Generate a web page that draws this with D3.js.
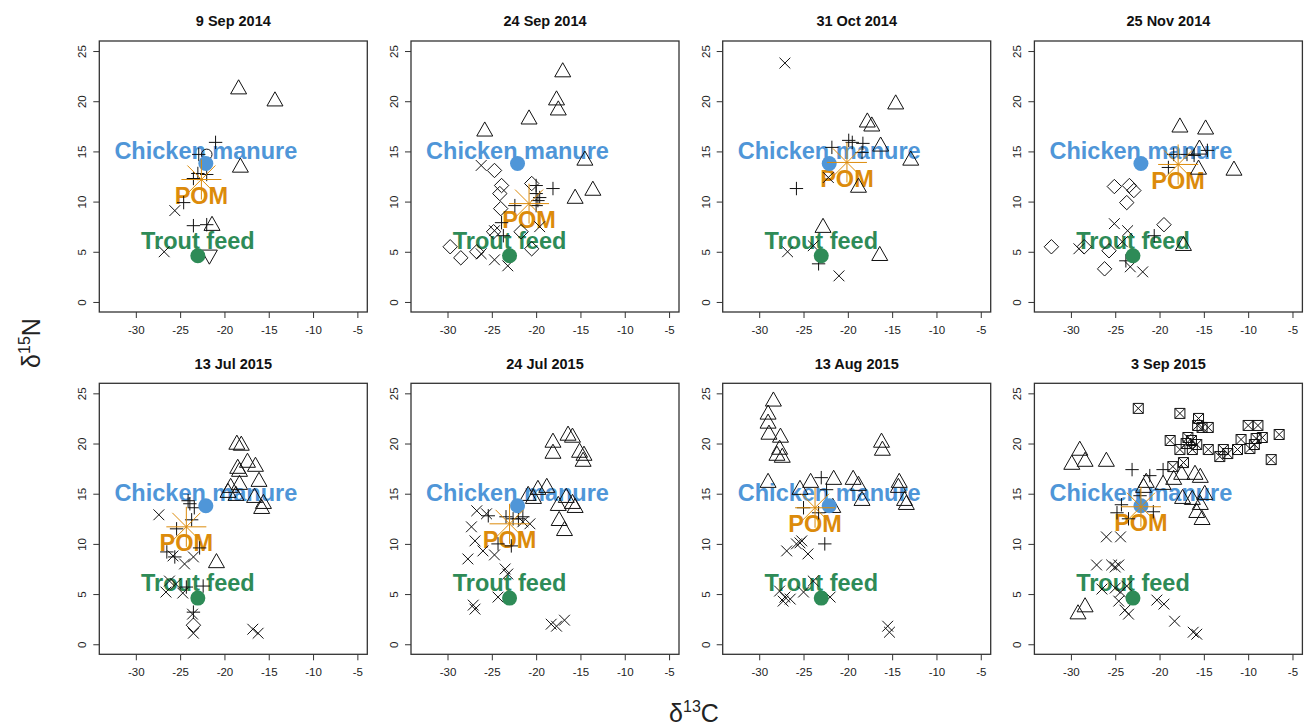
<!DOCTYPE html>
<html>
<head>
<meta charset="utf-8">
<script src="https://cdn.jsdelivr.net/npm/d3@7"></script>
<style>
  body { margin: 0; background: #fff; }
  svg { display: block; font-family: Arial, "Liberation Sans", sans-serif; }
  .tick-label { font-size: 11.5px; fill: #222; }
  .title { font-size: 14.5px; font-weight: bold; fill: #111; }
  .src { font-size: 23.5px; font-weight: bold; }
</style>
</head>
<body>
<div id="chart"></div>
<script>
// panel titles, in reading order
var panelTitles = ["9 Sep 2014", "24 Sep 2014", "31 Oct 2014", "25 Nov 2014",
                   "13 Jul 2015", "24 Jul 2015", "13 Aug 2015", "3 Sep 2015"];
var xTicks = [-30, -25, -20, -15, -10, -5];
var yTicks = [0, 5, 10, 15, 20, 25];

// end members (same for every date)
var chickenManure = [-22.1, 13.8];
var troutFeed = [-23.0, 4.6];

// POM for each date
var pomX = [-22.6, -20.8, -20.1, -17.9, -24.3, -23.0, -23.7, -22.1];
var pomY = [12.2, 9.8, 13.9, 13.7, 11.7, 12.0, 13.6, 13.7];

// consumers: [d13C, d15N, symbol]
var sep09_2014 = [
  [-18.4, 21.2, "tri"], [-14.3, 20.0, "tri"], [-18.2, 13.4, "tri"], [-21.4, 7.6, "tri"],
  [-21.0, 15.9, "plus"], [-22.9, 14.7, "plus"], [-22.0, 14.7, "circ"], [-23.0, 12.8, "plus"],
  [-22.0, 12.7, "plus"], [-23.5, 12.3, "plus"], [-24.6, 9.9, "plus"], [-25.6, 9.1, "x"],
  [-23.5, 7.6, "plus"], [-22.0, 7.7, "plus"], [-26.8, 5.0, "x"], [-21.7, 4.7, "tridown"]
];
var sep24_2014 = [
  [-17.0, 22.9, "tri"], [-17.7, 20.1, "tri"], [-17.5, 19.1, "tri"], [-20.8, 18.2, "tri"],
  [-25.8, 17.0, "tri"], [-14.5, 14.1, "tri"], [-13.6, 11.1, "tri"], [-15.6, 10.3, "tri"],
  [-20.5, 11.8, "dia"], [-26.2, 13.6, "x"], [-24.7, 13.1, "dia"], [-23.9, 11.6, "dia"],
  [-24.1, 10.8, "dia"], [-24.0, 9.3, "dia"], [-24.8, 7.0, "dia"], [-21.7, 7.0, "dia"],
  [-20.5, 5.3, "dia"], [-29.7, 5.5, "dia"], [-28.5, 4.4, "dia"], [-26.7, 5.0, "dia"],
  [-26.2, 4.8, "x"], [-24.7, 4.2, "x"], [-23.2, 3.6, "x"], [-24.7, 7.1, "x"],
  [-23.9, 7.9, "plus"], [-23.7, 6.6, "plus"], [-22.4, 9.6, "plus"], [-20.0, 11.6, "plus"],
  [-20.0, 10.8, "plus"], [-19.8, 10.1, "plus"], [-19.6, 10.4, "plus"], [-18.1, 11.3, "plus"],
  [-20.0, 9.6, "plus"], [-19.6, 7.5, "x"]
];
var oct31_2014 = [
  [-27.1, 23.8, "x"], [-14.6, 19.7, "tri"], [-17.8, 17.9, "tri"], [-17.3, 17.5, "tri"],
  [-16.3, 15.5, "tri"], [-12.9, 14.1, "tri"], [-18.8, 11.4, "tri"], [-22.8, 7.4, "tri"],
  [-16.4, 4.6, "tri"], [-19.9, 16.1, "plus"], [-19.5, 15.9, "plus"], [-18.3, 15.8, "plus"],
  [-18.4, 14.9, "plus"], [-21.8, 15.4, "plus"], [-25.8, 11.3, "plus"], [-23.3, 3.8, "plus"],
  [-22.2, 12.4, "x"], [-26.8, 5.0, "x"], [-23.9, 5.6, "x"], [-21.0, 2.6, "x"]
];
var nov25_2014 = [
  [-17.7, 17.4, "tri"], [-14.8, 17.2, "tri"], [-11.6, 13.1, "tri"], [-15.6, 13.2, "tri"],
  [-15.5, 15.2, "tri"], [-17.3, 5.6, "tri"], [-19.0, 13.4, "plus"], [-18.4, 14.7, "plus"],
  [-16.9, 14.7, "plus"], [-16.1, 14.6, "plus"], [-14.6, 15.1, "plus"], [-20.6, 6.6, "plus"],
  [-25.1, 11.5, "dia"], [-23.4, 11.6, "dia"], [-22.9, 11.1, "dia"], [-23.7, 9.9, "dia"],
  [-19.5, 7.7, "dia"], [-32.2, 5.5, "dia"], [-28.5, 5.5, "dia"], [-25.7, 5.1, "dia"],
  [-26.2, 3.3, "dia"], [-29.1, 5.3, "x"], [-25.1, 7.8, "x"], [-23.6, 7.1, "x"],
  [-24.2, 6.0, "x"], [-23.3, 3.5, "x"], [-21.9, 3.0, "x"], [-23.8, 4.1, "plus"]
];
var jul13_2015 = [
  [-18.6, 19.9, "tri"], [-18.1, 19.8, "tri"], [-17.4, 18.1, "tri"], [-16.5, 17.7, "tri"],
  [-18.5, 17.5, "tri"], [-18.3, 17.2, "tri"], [-16.1, 16.2, "tri"], [-19.3, 15.6, "tri"],
  [-18.3, 15.9, "tri"], [-19.6, 15.1, "tri"], [-18.7, 14.8, "tri"], [-16.6, 14.6, "tri"],
  [-15.6, 14.0, "tri"], [-15.8, 13.5, "tri"], [-20.9, 8.1, "tri"],
  [-24.1, 14.3, "plus"], [-23.9, 14.0, "plus"], [-23.4, 13.6, "plus"], [-23.7, 12.4, "plus"],
  [-25.4, 11.5, "plus"], [-26.5, 9.2, "plus"], [-25.6, 8.7, "plus"], [-24.3, 5.7, "plus"],
  [-22.4, 5.8, "plus"], [-23.5, 3.2, "plus"], [-22.8, 9.6, "plus"],
  [-27.4, 12.9, "x"], [-25.8, 8.8, "x"], [-24.5, 8.0, "x"], [-23.5, 8.7, "x"],
  [-26.2, 6.3, "x"], [-25.5, 6.0, "x"], [-26.6, 5.2, "x"], [-24.7, 5.1, "x"],
  [-23.6, 3.0, "x"], [-23.5, 1.1, "x"], [-16.8, 1.5, "x"], [-16.2, 1.1, "x"],
  [-23.5, 1.9, "dia"]
];
var jul24_2015 = [
  [-18.1, 20.1, "tri"], [-18.1, 19.0, "tri"], [-16.4, 20.8, "tri"], [-15.9, 20.6, "tri"],
  [-15.1, 19.1, "tri"], [-14.6, 18.8, "tri"], [-14.7, 18.2, "tri"], [-19.8, 15.4, "tri"],
  [-18.8, 15.6, "tri"], [-20.9, 14.8, "tri"], [-20.3, 14.5, "tri"], [-17.5, 13.8, "tri"],
  [-16.6, 14.6, "tri"], [-15.9, 14.0, "tri"], [-15.6, 13.6, "tri"], [-17.4, 12.3, "tri"],
  [-16.8, 11.3, "tri"],
  [-26.7, 13.3, "x"], [-25.6, 13.0, "x"], [-27.3, 11.7, "x"], [-26.9, 10.3, "x"],
  [-26.0, 9.3, "x"], [-27.7, 8.5, "x"], [-24.7, 8.9, "x"], [-23.5, 7.5, "x"],
  [-23.2, 7.0, "x"], [-24.3, 4.7, "x"], [-27.1, 3.9, "x"], [-26.9, 3.5, "x"],
  [-18.3, 2.0, "x"], [-17.7, 1.8, "x"], [-16.8, 2.4, "x"], [-21.5, 12.2, "x"],
  [-20.7, 12.0, "x"],
  [-23.4, 12.7, "plus"], [-22.6, 12.5, "plus"], [-22.0, 12.5, "plus"], [-21.5, 12.7, "plus"],
  [-24.3, 10.0, "plus"], [-22.8, 9.8, "plus"], [-25.4, 12.8, "plus"]
];
var aug13_2015 = [
  [-28.4, 24.2, "tri"], [-29.0, 22.9, "tri"], [-29.0, 22.0, "tri"], [-28.9, 20.9, "tri"],
  [-27.6, 20.6, "tri"], [-27.7, 19.4, "tri"], [-28.0, 18.8, "tri"], [-27.4, 18.6, "tri"],
  [-29.0, 16.1, "tri"], [-21.6, 16.4, "tri"], [-19.4, 16.4, "tri"], [-18.8, 15.8, "tri"],
  [-18.4, 14.3, "tri"], [-16.2, 20.1, "tri"], [-16.1, 19.3, "tri"], [-14.2, 16.1, "tri"],
  [-14.3, 15.6, "tri"], [-13.6, 14.3, "tri"], [-13.4, 13.9, "tri"], [-24.2, 16.1, "tri"],
  [-25.4, 15.4, "tri"], [-21.7, 13.6, "tri"],
  [-23.0, 16.6, "plus"], [-22.4, 15.4, "plus"], [-25.0, 13.6, "plus"], [-23.3, 13.1, "plus"],
  [-22.6, 10.0, "plus"],
  [-25.4, 10.1, "x"], [-25.8, 10.0, "x"], [-26.9, 9.3, "x"], [-24.5, 9.0, "x"],
  [-27.7, 5.3, "x"], [-27.1, 4.7, "x"], [-26.5, 4.5, "x"], [-25.0, 5.2, "x"],
  [-23.9, 6.3, "x"], [-22.0, 4.7, "x"], [-15.5, 1.8, "x"], [-15.3, 1.2, "x"],
  [-27.3, 4.3, "x"], [-25.2, 10.3, "x"]
];
var sep03_2015 = [
  [-22.4, 23.5, "sqx"], [-17.7, 23.0, "sqx"], [-15.6, 22.5, "sqx"], [-15.7, 21.8, "sqx"],
  [-15.2, 21.6, "sqx"], [-14.5, 21.6, "sqx"], [-10.0, 21.8, "sqx"], [-8.9, 21.8, "sqx"],
  [-6.5, 20.9, "sqx"], [-9.1, 20.5, "sqx"], [-8.4, 20.6, "sqx"], [-10.8, 20.4, "sqx"],
  [-18.8, 20.3, "sqx"], [-16.4, 20.3, "sqx"], [-17.0, 20.0, "sqx"], [-15.8, 19.9, "sqx"],
  [-17.7, 19.4, "sqx"], [-16.3, 19.4, "sqx"], [-14.5, 19.4, "sqx"], [-12.8, 19.4, "sqx"],
  [-11.2, 19.4, "sqx"], [-9.8, 19.5, "sqx"], [-9.3, 19.9, "sqx"], [-13.2, 18.7, "sqx"],
  [-12.3, 19.0, "sqx"], [-7.4, 18.4, "sqx"], [-17.3, 18.1, "sqx"], [-18.5, 17.7, "sqx"],
  [-16.8, 20.6, "sqx"],
  [-29.0, 19.3, "tri"], [-29.9, 17.9, "tri"], [-28.4, 18.2, "tri"], [-26.0, 18.2, "tri"],
  [-21.5, 16.1, "tri"], [-19.6, 15.9, "tri"], [-18.4, 16.4, "tri"], [-17.5, 16.9, "tri"],
  [-16.0, 16.9, "tri"], [-15.4, 16.6, "tri"], [-17.4, 14.5, "tri"], [-16.3, 14.4, "tri"],
  [-14.9, 14.9, "tri"], [-15.4, 13.9, "tri"], [-15.8, 13.1, "tri"], [-15.2, 12.4, "tri"],
  [-29.2, 3.0, "tri"], [-28.4, 3.7, "tri"], [-21.8, 15.6, "tri"],
  [-23.1, 17.4, "plus"], [-21.1, 16.8, "plus"], [-19.6, 17.4, "plus"], [-24.3, 13.9, "plus"],
  [-24.8, 13.1, "plus"], [-20.7, 13.2, "plus"], [-22.2, 14.8, "plus"], [-23.5, 12.5, "plus"],
  [-26.0, 10.7, "x"], [-24.4, 10.7, "x"], [-27.1, 7.9, "x"], [-25.4, 7.9, "x"],
  [-25.0, 7.7, "x"], [-24.6, 7.9, "x"], [-26.5, 5.5, "x"], [-25.0, 5.6, "x"],
  [-24.4, 5.2, "x"], [-24.6, 4.3, "x"], [-23.7, 5.8, "x"], [-23.9, 3.4, "x"],
  [-23.5, 3.0, "x"], [-20.3, 4.4, "x"], [-19.5, 4.0, "x"], [-18.3, 2.3, "x"],
  [-16.2, 1.2, "x"], [-15.8, 1.0, "x"]
];
var panelPoints = [sep09_2014, sep24_2014, oct31_2014, nov25_2014,
                   jul13_2015, jul24_2015, aug13_2015, sep03_2015];

var W = 1306, H = 727;
var boxW = 268, boxH = 271;
var colStep = 311.7;
var rowTop = [41, 383.3];
var boxLeft0 = 99.3;

var svg = d3.select("#chart").append("svg")
    .attr("width", W).attr("height", H);

var x = d3.scaleLinear().domain([-34.12, -3.88]).range([0, boxW]);
var y = d3.scaleLinear().domain([-1, 26]).range([boxH, 0]);

// marker shapes (R pch look-alikes)
function markerPath(s) {
  switch (s) {
    case "tri": return "M0,-9.4L8,4.7L-8,4.7Z";
    case "tridown": return "M0,9.4L8,-4.7L-8,-4.7Z";
    case "plus": return "M-6.7,0H6.7M0,-6.7V6.7";
    case "x": return "M-5.4,-5.4L5.4,5.4M-5.4,5.4L5.4,-5.4";
    case "dia": return "M0,-7.2L7.2,0L0,7.2L-7.2,0Z";
    case "sqx": return "M-5,-5H5V5H-5ZM-5,-5L5,5M-5,5L5,-5";
    case "circ": return "M5.3,0A5.3,5.3 0 1,1 -5.3,0A5.3,5.3 0 1,1 5.3,0Z";
  }
}

var blue = "#4f96d8", green = "#2e8b57", orange = "#dc8b0b";

panelTitles.forEach(function (title, i) {
  var col = i % 4, row = Math.floor(i / 4);
  var g = svg.append("g")
      .attr("transform", "translate(" + (boxLeft0 + col * colStep) + "," + rowTop[row] + ")");

  // axes
  var xa = g.append("g").attr("transform", "translate(0," + boxH + ")")
      .call(d3.axisBottom(x).tickValues(xTicks).tickSize(6).tickPadding(8).tickFormat(d3.format("d")));
  var ya = g.append("g")
      .call(d3.axisLeft(y).tickValues(yTicks).tickSize(6).tickFormat(d3.format("d")));
  [xa, ya].forEach(function (a) {
    a.select(".domain").remove();
    a.selectAll("line").attr("stroke", "#333");
    a.selectAll("text").attr("class", "tick-label").attr("font-family", null).attr("font-size", null);
  });
  xa.selectAll("text").text(function (d) { return d3.format("d")(d).replace("\u2212", "-"); });
  ya.selectAll("text")
      .attr("x", null).attr("dy", null)
      .attr("transform", "translate(-17,0) rotate(-90)")
      .attr("text-anchor", "middle")
      .attr("dominant-baseline", "central");

  g.append("rect").attr("width", boxW).attr("height", boxH)
      .attr("fill", "none").attr("stroke", "#333").attr("stroke-width", 1.3);

  g.append("text").attr("class", "title")
      .attr("x", boxW / 2).attr("y", row === 0 ? -15 : -14.5)
      .attr("text-anchor", "middle").text(title);

  // source labels
  g.append("text").attr("class", "src").attr("fill", blue)
      .attr("x", x(chickenManure[0])).attr("y", y(chickenManure[1] + 1.25))
      .attr("text-anchor", "middle").attr("dominant-baseline", "central").text("Chicken manure");
  g.append("text").attr("class", "src").attr("fill", green)
      .attr("x", x(troutFeed[0])).attr("y", y(troutFeed[1] + 1.5))
      .attr("text-anchor", "middle").attr("dominant-baseline", "central").text("Trout feed");
  g.append("text").attr("class", "src").attr("fill", orange)
      .attr("x", x(pomX[i])).attr("y", y(pomY[i] - 1.65))
      .attr("text-anchor", "middle").attr("dominant-baseline", "central").text("POM");

  // consumers
  g.selectAll(".pt").data(panelPoints[i]).enter().append("path")
      .attr("class", "pt")
      .attr("transform", function (d) { return "translate(" + x(d[0]) + "," + y(d[1]) + ")"; })
      .attr("d", function (d) { return markerPath(d[2]); })
      .attr("fill", "none").attr("stroke", "#111").attr("stroke-width", 1);

  // end members
  g.append("circle").attr("cx", x(chickenManure[0])).attr("cy", y(chickenManure[1]))
      .attr("r", 7.5).attr("fill", blue);
  g.append("circle").attr("cx", x(troutFeed[0])).attr("cy", y(troutFeed[1]))
      .attr("r", 7.5).attr("fill", green);
  g.append("path")
      .attr("transform", "translate(" + x(pomX[i]) + "," + y(pomY[i]) + ")")
      .attr("d", "M-20,0H20M0,-20V20M-14,-14L14,14M-14,14L14,-14")
      .attr("stroke", orange).attr("stroke-width", 1).attr("fill", "none");
});

// axis titles
var yt = svg.append("text")
    .attr("transform", "translate(40,343) rotate(-90)")
    .attr("text-anchor", "middle")
    .attr("font-size", 25).attr("fill", "#222");
yt.append("tspan").text("\u03b4");
yt.append("tspan").attr("font-size", 16).attr("dy", -10).text("15");
yt.append("tspan").attr("dy", 10).text("N");

var xt = svg.append("text")
    .attr("x", 694).attr("y", 722)
    .attr("text-anchor", "middle")
    .attr("font-size", 25).attr("fill", "#222");
xt.append("tspan").text("\u03b4");
xt.append("tspan").attr("font-size", 16).attr("dy", -10).text("13");
xt.append("tspan").attr("dy", 10).text("C");
</script>
</body>
</html>
